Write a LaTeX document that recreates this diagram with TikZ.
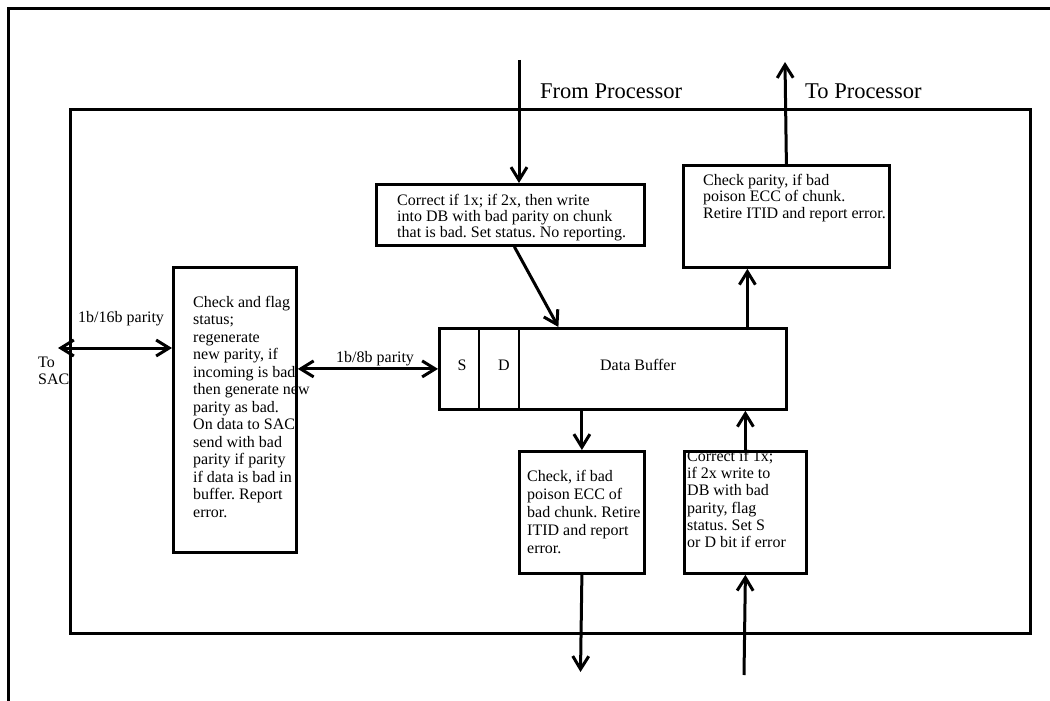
\documentclass[tikz,border=0pt]{standalone}
\usepackage{fontspec}
\setmainfont{Liberation Serif}
\usetikzlibrary{arrows.meta}
\tikzset{barb/.tip={Straight Barb[length=13pt,width=16pt]}}
\frenchspacing
\begin{document}
\begin{tikzpicture}[x=1pt,y=-1pt,
  frameline/.style={line width=3pt},
  blk/.style={draw, line width=2.8pt, inner sep=0pt, anchor=north west},
  txt/.style={inner sep=0pt, anchor=north west, align=left, font=\fontsize{16}{#1}\selectfont},
  txt/.default=17.5,
  lbl/.style={inner sep=0pt, anchor=base west, font=\fontsize{16}{17.5}\selectfont},
  big/.style={inner sep=0pt, anchor=base west, font=\fontsize{22.5}{26}\selectfont},
  arr/.style={-barb, line width=3pt},
  darr/.style={barb-barb, line width=3pt}]

\useasboundingbox (0,0) rectangle (1050,701);

% outer sheet edge and the unit boundary
\draw[frameline] (1050,9) -- (8,9) -- (8,701);
\draw[frameline] (70,109) rectangle (1030,633);

% blocks
\node[blk, minimum width=268, minimum height=61]  (corr1) at (375,183) {};
\node[blk, minimum width=206, minimum height=102] (chk1)  at (682,164) {};
\node[blk, minimum width=123, minimum height=285] (lbox)  at (172,266) {};
\node[blk, minimum width=347, minimum height=81]  (db)    at (438,327) {};
\node[blk, minimum width=125, minimum height=122] (chk2)  at (518,450) {};
\node[blk, minimum width=122, minimum height=122] (corr2) at (683,450) {};

% S / D fields of the data buffer
\draw[line width=2.8pt] ([xshift=41pt]db.north west) -- ([xshift=41pt]db.south west);
\draw[line width=2.8pt] ([xshift=81pt]db.north west) -- ([xshift=81pt]db.south west);
\node[lbl, anchor=base] (fs) at (462,370) {S};
\node[lbl, anchor=base] (fd) at (504,370) {D};
\node[lbl, anchor=base] (fdb) at (638,370) {Data Buffer};

% block texts
\node[txt=16] (t1) at (397,194) {Correct if 1x; if 2x, then write\\into DB with bad parity on chunk\\that is bad. Set status. No reporting.};
\node[txt=16.5] (t2) at (703,174) {Check parity, if bad\\poison ECC of chunk.\\Retire ITID and report error.};
\node[txt] (t3) at (193,296) {Check and flag\\status;\\regenerate\\new parity, if\\incoming is bad\\then generate new\\parity as bad.\\On data to SAC\\send with bad\\parity if parity\\if data is bad in\\buffer. Report\\error.};
\node[txt=18] (t4) at (527,470) {Check, if bad\\poison ECC of\\bad chunk. Retire\\ITID and report\\error.};
\node[txt=17.2] (t5) at (687,450) {Correct if 1x;\\if 2x write to\\DB with bad\\parity, flag\\status. Set S\\or D bit if error};

% outside labels
\node[big] (lfp) at (540,99) {From Processor};
\node[big] (ltp) at (805,99) {To Processor};
\node[lbl] (l16) at (78,322) {1b/16b parity};
\node[txt=17] (lsac) at (38,357) {To\\SAC};
\node[lbl] (l8) at (336,362) {1b/8b parity};

% connectors
\coordinate (fp) at (519,60);
\coordinate (tp) at (785,62);
\coordinate (sac) at (58,348);
\coordinate (out1) at (580.5,672);
\coordinate (in1) at (744,675);

\draw[arr] (fp) -- (corr1.north -| fp);
\draw[arr] (chk1.north) -- (tp);
\draw[arr] ([xshift=4pt]corr1.south) -- ([xshift=-54.5pt]db.north);
\draw[arr] ([xshift=134.5pt]db.north) -- ([xshift=-39pt]chk1.south);
\draw[arr] ([xshift=-31pt]db.south) -- (chk2.north);
\draw[arr] (chk2.south) -- (out1);
\draw[arr] (in1) -- (corr2.south);
\draw[arr] (corr2.north) -- ([xshift=132.5pt]db.south);
\draw[darr] (sac) -- (sac -| lbox.west);
\draw[darr] (lbox.east |- db.west) -- (db.west);
\end{tikzpicture}
\end{document}
